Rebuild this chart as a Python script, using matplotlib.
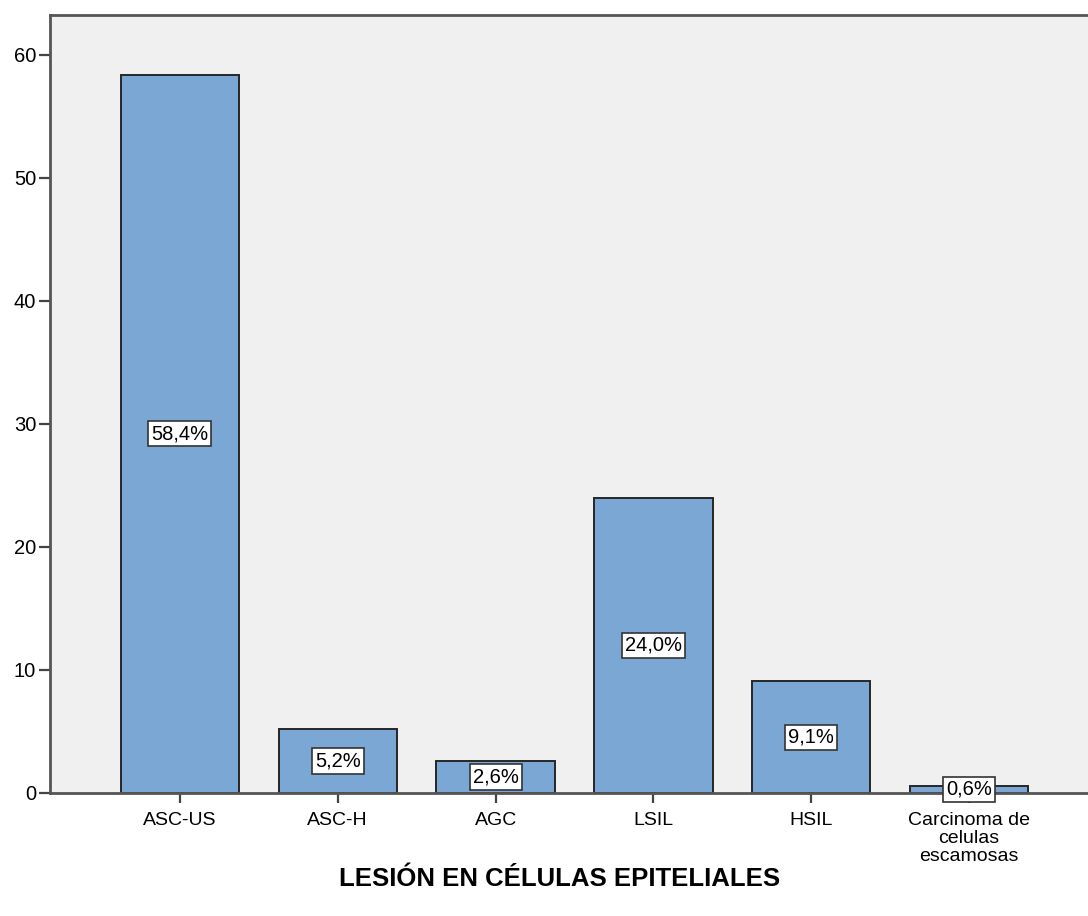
import matplotlib.pyplot as plt

categories = ["ASC-US", "ASC-H", "AGC", "LSIL", "HSIL", "Carcinoma de\ncelulas\nescamosas"]
percent = [58.4, 5.2, 2.6, 24.0, 9.1, 0.6]
labels = ["58,4%", "5,2%", "2,6%", "24,0%", "9,1%", "0,6%"]
yticks = [0, 10, 20, 30, 40, 50, 60]

plt.rcParams['font.family'] = ['Liberation Sans', 'DejaVu Sans']

fig = plt.figure(figsize=(10.88, 9.16), dpi=100)
ax = fig.add_axes([50 / 1088, 123 / 916, 1049 / 1088, 778 / 916])
ax.set_facecolor("#f0f0f0")

x = list(range(len(categories)))
ax.bar(x, percent, width=0.75, color="#7ba7d4", edgecolor="#262626", linewidth=1.4, zorder=2)

for xi, v, lab in zip(x, percent, labels):
    ax.text(xi, v / 2, lab, ha="center", va="center", fontsize=14.5, color="black", zorder=3,
            bbox=dict(boxstyle="square,pad=0.15", facecolor="white", edgecolor="#333333", linewidth=1.2))

ax.set_xlim(-0.823, 5.823)
ax.set_ylim(0, 63.25)
ax.set_yticks(yticks)
ax.set_xticks(x)
ax.set_xticklabels(categories, fontsize=14, linespacing=1.1)
ax.tick_params(axis="y", labelsize=14.5, length=8, width=1.6, color="#444444", pad=2)
ax.tick_params(axis="x", length=7.5, width=1.6, color="#444444", pad=6)

for side in ["left", "top", "right", "bottom"]:
    ax.spines[side].set_color("#555555")
    ax.spines[side].set_linewidth(2)

fig.text(560 / 1088, 1 - 879 / 916, "LESIÓN EN CÉLULAS EPITELIALES", ha="center", va="center",
         fontsize=18.5, fontweight="bold")

fig.savefig("out.png", dpi=100, facecolor="white")
